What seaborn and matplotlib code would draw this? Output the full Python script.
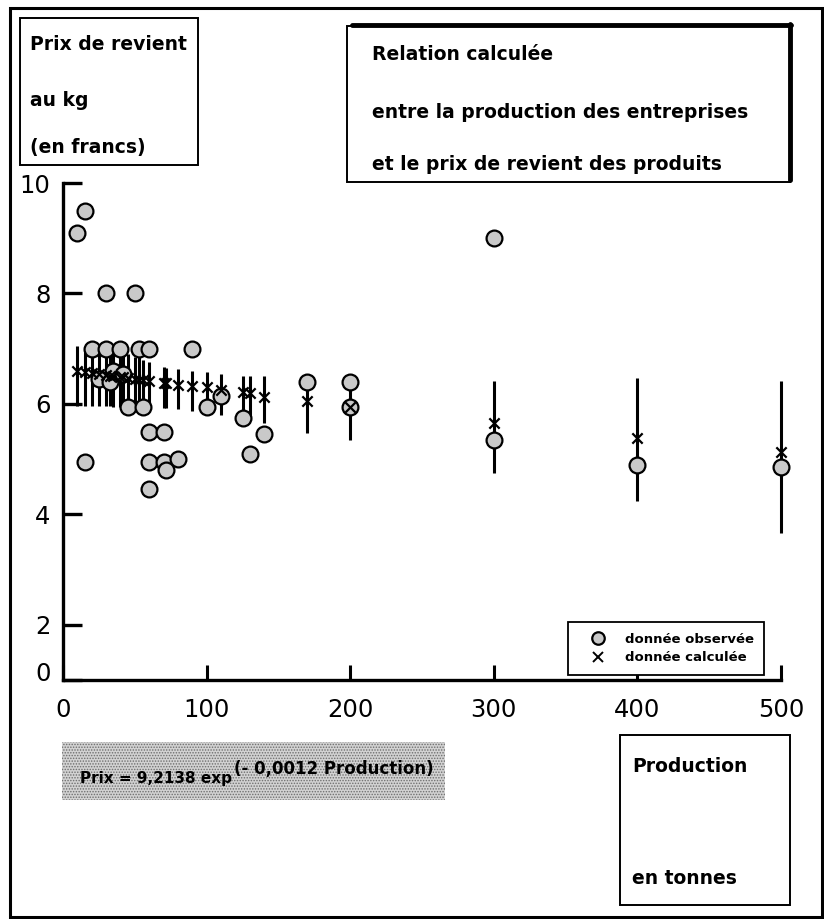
import numpy as np
import pandas as pd
import matplotlib
matplotlib.use("Agg")
import matplotlib.pyplot as plt
import matplotlib.patches as mpatches
import matplotlib.transforms as mtransforms
from matplotlib.lines import Line2D
import seaborn as sns

# observed data (production in tonnes, cost price per kg in francs)
prod_obs = [10, 15, 15, 20, 25, 30, 30, 33, 35, 40, 42, 45, 50, 53, 56,
            60, 60, 60, 60, 70, 70, 72, 80, 90, 100, 110, 125, 130, 140,
            170, 200, 200, 300, 300, 400, 500]
prix_obs = [9.1, 9.5, 4.95, 7.0, 6.45, 8.0, 7.0, 6.4, 6.6, 7.0, 6.55, 5.95, 8.0, 7.0, 5.95,
            7.0, 5.5, 4.95, 4.45, 5.5, 4.95, 4.8, 5.0, 7.0, 5.95, 6.15, 5.75, 5.1, 5.45,
            6.4, 6.4, 5.95, 9.0, 5.35, 4.9, 4.85]

# calculated data with interval
prod_calc = [10, 15, 20, 25, 30, 33, 35, 40, 42, 45, 50, 53, 56, 60, 70, 72, 80, 90,
             100, 110, 125, 130, 140, 170, 200, 300, 400, 500]
prix_calc = [6.6, 6.58, 6.56, 6.54, 6.52, 6.51, 6.5, 6.49, 6.48, 6.47, 6.45, 6.44, 6.43, 6.42,
             6.38, 6.37, 6.35, 6.32, 6.3, 6.25, 6.22, 6.2, 6.13, 6.05, 5.95, 5.66, 5.39, 5.12]
calc_hi = [7.05, 7.05, 7.0, 7.0, 6.95, 6.95, 6.95, 6.9, 6.9, 6.9, 6.85, 6.85, 6.8, 6.75,
           6.66, 6.65, 6.63, 6.6, 6.57, 6.55, 6.5, 6.5, 6.5, 6.48, 6.48, 6.42, 6.46, 6.42]
calc_lo = [5.97, 5.97, 5.97, 5.96, 5.96, 5.96, 5.95, 5.95, 5.95, 5.95, 5.95, 5.94, 5.94, 5.93,
           5.92, 5.92, 5.9, 5.88, 5.84, 5.8, 5.72, 5.7, 5.66, 5.48, 5.34, 4.75, 4.25, 3.67]

x_ticks = [0, 100, 200, 300, 400, 500]
y_ticks = [1.0, 2, 4, 6, 8, 10]
y_ticklabels = ['0', '2', '4', '6', '8', '10']

W, H = 824, 919


def fx(px):
    return px / W


def fy(py):
    return 1 - py / H


sns.set_style('ticks')
plt.rcParams['font.family'] = ['DejaVu Sans']
plt.rcParams.update({'text.color': 'black', 'axes.edgecolor': 'black',
                     'xtick.color': 'black', 'ytick.color': 'black',
                     'axes.labelcolor': 'black', 'hatch.linewidth': 0.7})

fig = plt.figure(figsize=(W / 100, H / 100), dpi=100)
ax = fig.add_axes([fx(63), fy(680), (781 - 63) / W, (680 - 183) / H])

df_obs = pd.DataFrame({'prod': prod_obs, 'prix': prix_obs})
df_calc = pd.DataFrame({'prod': prod_calc, 'prix': prix_calc, 'lo': calc_lo, 'hi': calc_hi})

ax.vlines(df_calc['prod'], df_calc['lo'], df_calc['hi'], color='black', lw=2.2, zorder=2,
          clip_on=False)
sns.scatterplot(data=df_obs, x='prod', y='prix', ax=ax, marker='o', s=130,
                facecolor='#c9c9c9', edgecolor='black', linewidth=1.6, zorder=3, legend=False,
                clip_on=False)
sns.scatterplot(data=df_calc, x='prod', y='prix', ax=ax, marker='x', s=55,
                color='black', linewidth=1.6, zorder=4, legend=False, clip_on=False)

ax.set_xlim(0, 500)
ax.set_ylim(1.0, 10)
ax.set_xticks(x_ticks)
ax.set_xticklabels([str(v) for v in x_ticks])
ax.set_yticks(y_ticks)
ax.set_yticklabels(y_ticklabels)
ax.set_xlabel('')
ax.set_ylabel('')
for side in ['top', 'right']:
    ax.spines[side].set_visible(False)
for side in ['left', 'bottom']:
    ax.spines[side].set_linewidth(2.4)
ax.tick_params(axis='y', direction='in', length=14, width=2.4, labelsize=17.5, pad=9)
ax.tick_params(axis='x', direction='in', length=11, width=2.2, labelsize=17.5, pad=13)
ax.patch.set_alpha(0)

# the "0" label sits a little above the axis corner in the original
lab0 = ax.get_yticklabels()[0]
lab0.set_transform(lab0.get_transform() +
                   mtransforms.ScaledTranslation(0, 6 / 72, fig.dpi_scale_trans))

handles = [Line2D([], [], marker='o', ls='', markerfacecolor='#c9c9c9', markeredgecolor='black',
                  markersize=9, markeredgewidth=1.6),
           Line2D([], [], marker='x', ls='', color='black', markersize=7, markeredgewidth=1.4)]
leg = ax.legend(handles, ['donnée observée', 'donnée calculée'], loc='upper left',
                bbox_to_anchor=((568 - 63) / 718, (680 - 622) / 497),
                prop={'size': 9.5, 'weight': 'bold'}, frameon=True, fancybox=False,
                framealpha=1, edgecolor='black', borderpad=0.8, handletextpad=0.5,
                handlelength=3.0, labelspacing=0.45, borderaxespad=0)
leg.get_frame().set_linewidth(1.3)

# outer frame
fig.add_artist(mpatches.Rectangle((fx(10), fy(917)), (822 - 10) / W, (917 - 8) / H,
                                  transform=fig.transFigure, fill=False, lw=2.2, ec='black'))

# y label box
fig.add_artist(mpatches.Rectangle((fx(20), fy(165)), (198 - 20) / W, (165 - 18) / H,
                                  transform=fig.transFigure, fill=False, lw=1.4, ec='black'))
for txt, py in [('Prix de revient', 44), ('au kg', 100), ('(en francs)', 148)]:
    fig.text(fx(30), fy(py), txt, fontsize=13.5, fontweight='bold', va='center', ha='left')

# title box with shadow
fig.add_artist(mpatches.Rectangle((fx(347), fy(182)), (790 - 347) / W, (182 - 26) / H,
                                  transform=fig.transFigure, fc='white', lw=1.4, ec='black'))
fig.add_artist(Line2D([fx(352), fx(791)], [fy(25), fy(25)], transform=fig.transFigure,
                      color='black', lw=3.5))
fig.add_artist(Line2D([fx(790), fx(790)], [fy(24), fy(180)], transform=fig.transFigure,
                      color='black', lw=3.5))
for txt, py in [('Relation calculée', 55), ('entre la production des entreprises', 112),
                ('et le prix de revient des produits', 164)]:
    fig.text(fx(372), fy(py), txt, fontsize=13.5, fontweight='bold', va='center', ha='left')

# formula box
fig.add_artist(mpatches.Rectangle((fx(62), fy(800)), (445 - 62) / W, (800 - 742) / H,
                                  transform=fig.transFigure, fc='#d2d2d2', ec='#6e6e6e',
                                  hatch='......', lw=0))
main = fig.text(fx(80), fy(779), 'Prix = 9,2138 exp', fontsize=11, fontweight='bold',
                va='center', ha='left')
fig.canvas.draw()
bb = main.get_window_extent().transformed(fig.transFigure.inverted())
fig.text(bb.x1 + 2 / W, bb.y0 + 0.55 * bb.height, '(- 0,0012 Production)', fontsize=12,
         fontweight='bold', va='bottom', ha='left')

# x label box
fig.add_artist(mpatches.Rectangle((fx(620), fy(905)), (790 - 620) / W, (905 - 735) / H,
                                  transform=fig.transFigure, fill=False, lw=1.4, ec='black'))
fig.text(fx(632), fy(767), 'Production', fontsize=13.5, fontweight='bold', va='center', ha='left')
fig.text(fx(632), fy(878), 'en tonnes', fontsize=13.5, fontweight='bold', va='center', ha='left')

fig.savefig('out.png', dpi=100, facecolor='white')
